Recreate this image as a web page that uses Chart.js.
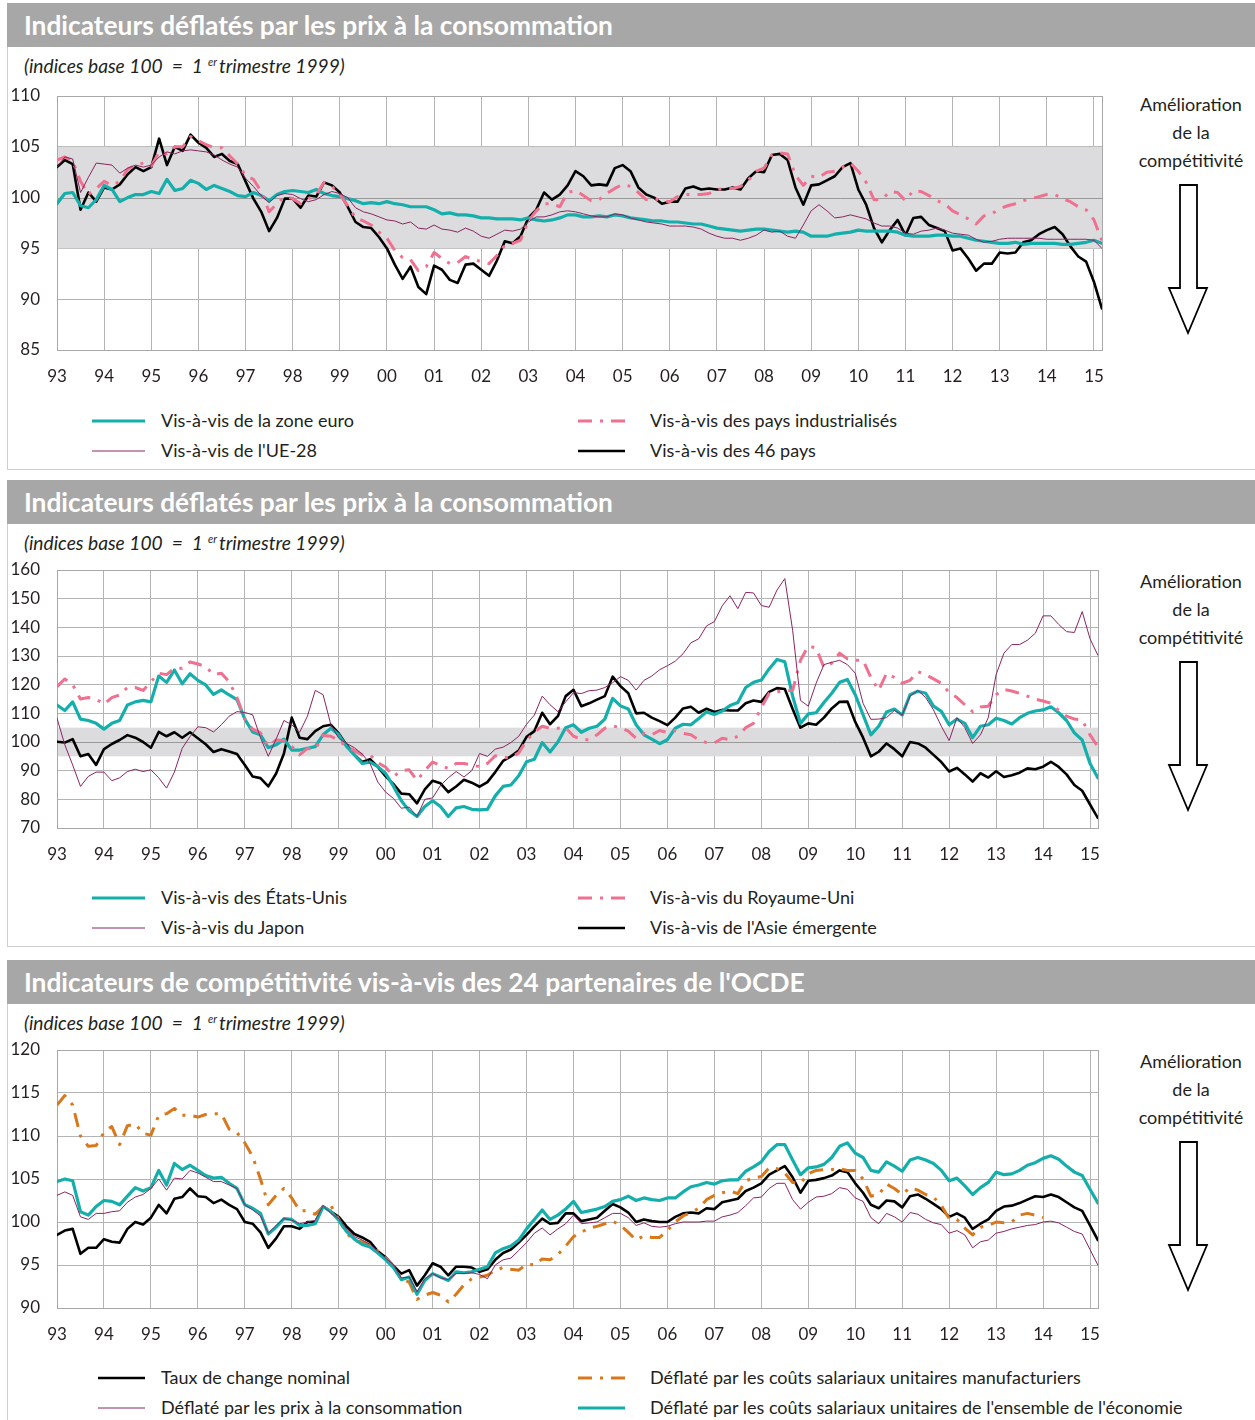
<!DOCTYPE html>
<html><head><meta charset="utf-8">
<script src="https://cdn.jsdelivr.net/npm/chart.js@4.4.1/dist/chart.umd.min.js"></script>
<style>
html,body{margin:0;padding:0;background:#fff;}
body{width:1255px;height:1420px;position:relative;overflow:hidden;font-family:Lato,'Open Sans',sans-serif;color:#231f20;}
.box{position:absolute;left:7px;width:1260px;border:1px solid #cfcfcf;box-sizing:border-box;}
.hdr{position:absolute;left:7px;width:1248px;height:44px;background:#a7a7a7;color:#fff;font-weight:700;font-size:26.3px;line-height:44px;padding-left:17px;box-sizing:border-box;white-space:nowrap;}
.sub{position:absolute;left:24px;font-style:italic;font-size:19.2px;line-height:22px;white-space:nowrap;}
.sub sup{font-size:11px;vertical-align:top;position:relative;top:-4px;margin-left:5px;margin-right:2px;}
.amel{position:absolute;left:1131px;width:120px;text-align:center;font-size:18px;line-height:28px;}
.leg{position:absolute;font-size:18px;line-height:22px;white-space:nowrap;}
canvas{position:absolute;left:0;}
svg{position:absolute;overflow:visible;}
</style></head>
<body>
<div id="root"></div>
<script>
// ---------- DATA (bimonthly observations, Jan 1993 .. Mar 2015) ----------
const yearLabels = ['93','94','95','96','97','98','99','00','01','02','03','04','05','06','07','08','09','10','11','12','13','14','15'];
const START_YEAR = 1993;
const STEP = 1/6;

// Panel 1
const p1Zone = [99.4,100.4,100.5,99.2,99.0,99.8,101.2,100.8,99.6,100.0,
100.3,100.3,100.6,100.4,101.8,100.7,100.9,101.7,101.4,100.8,
101.2,100.9,100.6,100.2,100.1,100.5,100.2,99.7,100.3,100.6,
100.7,100.6,100.5,100.8,100.4,100.2,100.1,99.9,99.7,99.4,
99.5,99.4,99.6,99.4,99.3,99.1,99.1,99.1,98.8,98.4,
98.5,98.3,98.3,98.2,98.0,98.0,97.9,97.9,97.9,97.8,
98.0,97.8,97.7,97.8,98.0,98.3,98.3,98.1,98.1,98.2,
98.1,98.3,98.2,98.0,97.9,97.8,97.7,97.7,97.6,97.6,
97.5,97.4,97.4,97.2,97.0,96.9,96.8,96.7,96.8,96.9,
96.9,96.8,96.7,96.6,96.7,96.6,96.2,96.2,96.2,96.4,
96.5,96.6,96.8,96.7,96.7,96.7,96.7,96.6,96.3,96.2,
96.2,96.2,96.3,96.3,96.2,96.2,96.0,95.8,95.7,95.6,
95.5,95.5,95.6,95.4,95.5,95.5,95.5,95.5,95.4,95.4,
95.5,95.6,95.8,95.5];
const p1UE = [103.0,104.0,103.8,100.5,102.0,103.4,103.3,103.2,102.4,102.9,
103.2,103.0,103.2,104.0,104.5,104.3,104.6,104.7,104.6,104.5,
104.2,103.7,103.3,103.0,101.9,101.1,100.2,99.5,100.2,100.4,
100.3,99.9,99.6,99.8,100.3,100.6,100.4,100.0,99.0,98.6,
98.4,98.1,97.8,97.7,97.4,97.6,97.0,96.9,97.3,96.9,
96.8,96.6,97.0,96.7,96.2,96.0,96.4,96.8,96.7,96.9,
97.6,98.1,98.1,98.3,98.6,98.7,98.6,98.4,98.2,98.1,
98.1,98.4,98.3,98.0,97.8,97.6,97.5,97.4,97.2,97.2,
97.2,97.1,96.9,96.5,96.2,96.0,96.0,95.8,96.0,96.3,
96.8,96.6,96.7,96.2,96.0,97.3,98.7,99.3,98.7,98.0,
98.1,98.3,98.1,97.9,97.5,97.2,97.2,97.0,96.5,96.4,
96.7,96.8,97.0,96.8,96.5,96.4,96.3,95.9,95.6,95.7,
95.9,96.0,96.0,96.0,96.0,96.0,95.9,95.9,95.9,95.9,
95.9,95.9,95.8,95.0];
const p1Indus = [103.7,104.0,103.6,101.6,100.3,100.9,101.6,101.2,101.6,102.8,
103.2,103.4,103.1,104.5,104.3,105.0,105.0,106.0,105.6,105.2,
104.9,104.9,104.1,103.3,102.2,101.8,100.6,98.6,99.4,100.1,
99.9,99.4,99.9,100.3,101.5,101.1,100.3,99.2,98.0,97.7,
97.3,96.6,96.0,94.8,94.1,93.9,92.8,93.2,94.6,94.0,
93.5,93.6,94.2,93.9,93.7,93.5,94.3,95.3,95.5,95.8,
97.7,98.7,99.4,99.4,99.1,100.5,100.7,100.2,99.7,99.8,
100.4,100.9,101.3,101.1,100.5,99.8,99.9,99.7,99.6,100.1,
100.3,100.3,100.3,100.4,100.8,100.9,100.9,101.1,101.7,102.6,
102.9,104.2,104.4,104.3,102.2,101.2,102.1,102.0,102.5,102.6,
103.0,103.4,102.6,101.5,99.8,99.8,100.6,100.5,99.7,100.7,
100.6,100.2,99.7,99.4,98.7,98.3,97.9,97.4,98.2,98.4,
98.9,99.2,99.4,99.7,99.9,100.1,100.3,100.3,99.9,99.6,
99.1,98.8,97.8,95.8];
const p1Pays46 = [103.0,103.7,103.3,98.8,100.5,99.6,101.0,100.8,101.3,102.3,
103.0,102.6,103.0,105.8,103.2,105.0,104.6,106.2,105.4,104.9,
104.0,104.3,103.6,103.3,101.6,99.9,98.6,96.7,98.0,99.9,
99.9,99.0,100.2,100.1,101.5,101.2,100.5,99.1,97.6,97.1,
97.0,96.1,95.0,93.4,92.0,93.2,91.2,90.5,93.3,92.9,
91.9,91.6,93.4,93.5,92.9,92.3,93.8,95.7,95.5,96.2,
98.0,98.8,100.5,99.8,100.3,101.2,102.6,102.1,101.2,101.3,
101.2,102.9,103.2,102.6,101.0,100.3,100.0,99.4,99.6,99.6,
100.9,101.1,100.8,100.9,100.8,100.8,101.0,100.8,101.9,102.6,
102.5,104.2,104.3,103.7,101.0,99.3,101.2,101.3,101.7,102.1,
103.0,103.4,100.8,99.3,97.0,95.6,96.8,97.8,96.3,98.0,
98.1,97.3,97.0,96.7,94.8,95.0,94.0,92.8,93.5,93.5,
94.6,94.5,94.6,95.6,95.8,96.4,96.8,97.1,96.4,95.2,
94.2,93.7,91.7,89.1];

// Panel 2
const p2US = [112.9,111.0,114.0,108.0,107.5,106.5,104.5,106.5,107.5,112.9,
114.0,114.5,114.0,123.0,120.8,125.1,120.3,123.8,121.5,119.9,
116.6,118.2,116.4,114.8,108.0,103.5,102.5,98.0,99.0,101.0,
97.2,97.2,97.8,98.4,102.5,104.8,102.5,98.5,95.5,92.5,
93.0,91.4,89.0,84.5,79.5,76.0,74.0,77.5,79.5,77.5,
74.0,77.0,77.5,76.5,76.3,76.5,81.2,84.5,85.0,88.2,
93.1,94.0,99.8,96.5,100.0,105.0,106.0,103.4,104.8,105.5,
108.0,115.2,112.6,111.5,106.0,102.5,101.0,99.4,100.8,104.8,
106.2,106.0,108.2,110.5,109.6,110.8,112.7,113.8,119.0,120.8,
121.6,125.5,128.8,128.0,116.0,106.5,109.8,110.2,113.8,117.0,
120.8,121.8,116.5,109.5,102.5,105.5,110.5,111.5,109.4,116.5,
117.7,117.0,112.5,110.7,106.0,108.0,106.5,101.5,105.5,106.0,
108.3,107.5,106.3,108.5,110.0,110.8,111.2,112.3,110.2,107.5,
103.2,100.7,92.5,87.5];
const p2JP = [108.3,99.0,92.0,84.5,88.0,89.5,89.5,86.5,87.5,89.7,
90.5,89.7,90.3,87.5,83.9,89.5,97.8,101.9,105.3,105.0,
103.5,106.0,109.0,110.6,110.3,109.5,101.5,95.0,101.0,107.5,
106.0,103.4,109.0,118.0,116.5,106.0,101.3,99.5,98.0,95.8,
92.5,86.0,82.5,80.3,76.9,77.3,74.0,80.0,80.5,84.8,
87.5,89.7,87.8,90.0,96.0,95.0,97.5,98.2,99.8,102.0,
106.2,109.4,116.0,113.0,110.6,114.0,117.2,116.9,117.9,118.1,
119.0,120.7,122.8,121.5,118.1,121.5,123.0,125.2,126.6,128.2,
130.8,134.6,136.0,140.5,142.0,147.5,151.0,146.5,152.2,152.0,
147.6,147.0,153.0,157.0,139.0,114.5,112.5,120.5,127.0,127.8,
128.5,127.0,124.0,113.5,107.9,108.0,108.5,111.0,109.4,116.0,
118.0,115.5,111.2,105.5,100.5,108.5,105.0,99.5,102.5,108.5,
123.5,131.0,134.0,134.0,135.5,137.9,144.0,144.0,141.0,138.5,
138.2,145.5,136.0,130.3];
const p2UK = [119.3,122.0,120.0,115.0,115.5,115.0,113.2,115.5,116.4,119.0,
119.0,118.0,121.0,124.0,123.5,125.7,125.7,127.9,127.2,126.3,
123.5,124.0,121.0,115.5,108.0,104.5,103.2,98.5,100.7,100.5,
98.5,95.5,97.8,97.5,102.3,102.0,100.5,98.5,97.0,95.5,
95.5,92.8,91.2,88.0,90.0,90.3,86.6,90.0,93.0,91.8,
90.8,92.5,92.5,92.0,91.4,92.5,95.2,94.6,94.5,96.2,
100.5,103.5,105.5,104.8,104.8,105.0,102.0,101.0,100.7,102.5,
104.8,105.6,105.0,103.8,101.3,103.0,102.5,104.0,103.3,104.0,
103.0,102.5,100.8,99.8,99.7,101.3,100.8,102.0,105.0,106.5,
112.0,117.0,117.5,118.0,118.0,128.5,133.5,132.8,126.0,127.5,
131.0,129.0,128.5,128.5,122.5,118.0,124.0,122.5,120.5,121.5,
124.5,123.5,122.0,120.5,117.2,115.5,113.0,110.6,112.2,112.5,
116.5,118.3,117.8,117.0,116.0,115.0,114.3,113.5,111.0,109.0,
108.0,107.7,102.5,98.3];
const p2Asia = [100.1,99.8,101.0,95.0,95.8,92.0,97.5,99.3,100.7,102.4,
101.5,100.0,98.0,103.5,102.0,103.4,101.5,103.4,101.3,99.2,
96.5,97.5,96.7,95.8,92.0,88.0,87.4,84.5,89.0,96.0,
108.5,101.5,101.0,103.8,105.5,106.0,103.0,99.0,95.5,93.0,
94.0,91.3,88.0,85.3,82.0,81.8,78.6,83.5,86.5,85.6,
82.5,84.5,86.8,85.8,84.4,86.0,89.5,93.4,95.0,97.0,
101.8,103.8,110.2,106.2,109.0,116.0,118.2,112.5,113.5,114.8,
116.0,122.8,119.5,117.0,110.0,110.2,108.5,107.3,105.9,108.5,
111.7,112.3,110.2,111.6,110.5,111.2,111.0,111.0,113.5,114.5,
114.0,117.5,118.8,118.5,111.5,105.0,106.5,106.0,108.5,111.7,
114.0,114.1,107.0,101.5,95.0,96.6,99.5,97.5,95.0,100.0,
99.5,98.0,95.5,93.0,89.7,91.0,88.7,86.2,89.1,87.6,
89.8,87.8,88.4,89.3,90.8,90.5,91.4,93.1,91.3,88.7,
85.0,83.0,78.2,73.5];

// Panel 3
const p3Nominal = [98.5,99.0,99.2,96.3,97.0,97.0,98.0,97.7,97.6,99.2,
100.0,99.7,100.5,102.0,101.0,102.7,102.9,103.9,103.0,102.9,
102.2,102.6,102.0,101.5,100.0,99.8,98.8,97.0,98.1,99.5,
99.5,99.2,100.0,100.0,101.8,101.2,100.6,99.5,98.6,98.2,
97.7,96.6,95.9,94.9,94.0,94.4,92.6,93.8,95.2,94.8,
93.8,94.8,94.8,94.7,94.2,94.5,95.6,96.4,96.8,97.6,
98.5,99.5,100.4,99.8,99.9,101.0,101.0,100.1,100.3,100.5,
101.3,102.1,101.7,101.1,100.0,100.3,100.1,100.0,100.0,100.6,
101.0,101.1,101.0,101.6,101.5,102.3,102.5,102.7,103.6,104.0,
104.5,105.5,106.0,106.5,105.2,103.4,104.8,104.9,105.1,105.4,
106.0,105.8,104.5,103.4,102.0,101.6,102.5,102.4,101.7,103.0,
103.2,102.7,102.1,101.5,100.6,101.0,100.5,99.2,99.8,100.3,
101.3,101.8,101.9,102.2,102.6,103.0,102.9,103.2,102.9,102.3,
101.7,101.3,99.6,97.9];
const p3CPI = [103.1,103.5,103.1,100.6,100.3,101.0,101.0,101.2,101.3,102.3,
102.9,103.2,103.9,105.0,103.7,105.1,105.0,106.0,105.7,105.2,
104.7,104.7,104.3,103.9,102.0,101.4,100.7,98.7,99.6,100.4,
100.2,99.8,100.0,100.2,101.9,101.0,100.4,99.2,98.3,97.9,
97.4,96.6,95.8,95.0,93.5,93.6,91.9,93.4,94.0,93.5,
93.3,94.0,94.0,94.1,93.9,93.4,95.0,95.6,95.8,96.7,
97.6,98.7,99.3,98.5,99.2,99.8,100.8,99.8,99.9,100.0,
100.5,101.0,101.0,100.5,99.6,99.9,99.5,99.4,99.5,99.8,
100.0,100.0,100.0,100.1,100.1,100.6,100.8,101.1,101.9,102.8,
102.9,103.9,104.5,104.5,102.6,101.5,102.3,102.9,103.0,103.3,
104.0,103.8,102.8,102.4,100.5,99.8,101.0,100.6,100.0,101.1,
100.9,100.3,99.9,99.7,98.7,99.0,98.5,97.0,97.7,97.9,
98.7,98.9,99.2,99.4,99.6,99.7,100.0,100.1,99.9,99.4,
98.9,98.6,96.8,95.0];
const p3ULCManuf = [113.6,114.7,113.6,110.0,108.8,108.9,110.4,111.1,109.0,111.2,
111.4,110.3,110.1,112.4,112.6,113.2,112.4,112.4,112.2,112.5,
112.6,112.6,110.8,110.4,109.2,107.6,105.0,102.0,103.1,103.9,
102.8,101.3,101.3,100.9,101.8,101.9,100.3,98.7,97.8,97.7,
97.3,96.6,95.8,94.8,93.4,93.0,91.0,91.5,91.8,91.5,
90.7,91.6,92.7,93.4,93.6,93.8,94.4,94.7,94.5,94.4,
95.1,95.0,95.7,95.6,96.2,97.2,98.3,98.8,99.3,99.5,
99.8,100.1,99.6,98.8,97.9,98.4,98.2,98.2,99.0,100.0,
100.7,101.1,101.6,102.6,103.1,103.4,103.6,103.3,104.8,105.1,
105.3,106.3,106.2,105.7,104.6,104.5,105.6,106.0,106.1,106.1,
106.2,106.0,106.0,105.0,103.0,103.2,104.4,103.9,103.2,104.0,
103.7,103.2,102.9,101.9,100.4,100.3,99.3,98.5,99.4,99.6,
100.0,99.9,100.0,100.8,101.0,100.8,100.5,null,null,null,
null,null,null,null];
const p3ULCEcon = [104.7,105.0,104.8,101.2,100.8,101.8,102.5,102.4,102.0,103.0,
104.0,103.6,104.0,106.0,104.3,106.8,106.1,106.6,106.0,105.4,
105.1,105.2,104.5,103.9,102.0,101.6,101.0,98.6,99.4,100.4,
100.3,99.6,99.6,99.8,101.8,101.2,100.2,98.9,98.0,97.4,
97.1,96.4,95.6,94.7,93.3,93.6,91.6,93.2,94.0,93.6,
93.2,94.2,94.1,94.2,94.5,94.8,96.4,96.9,97.2,97.9,
99.2,100.3,101.4,100.3,100.8,101.5,102.4,101.1,101.3,101.5,
101.8,102.4,102.6,103.0,102.5,102.8,102.6,102.5,102.8,102.8,
103.5,104.1,104.3,104.6,104.4,104.8,104.9,104.9,105.9,106.4,
107.0,108.2,109.0,109.0,107.2,105.5,106.3,106.4,106.7,107.5,
108.8,109.2,108.0,107.5,106.0,105.8,107.0,106.5,105.9,107.2,
107.5,107.2,106.8,106.0,104.8,105.1,104.2,103.2,104.0,104.6,
105.8,105.5,105.6,106.0,106.6,106.9,107.4,107.7,107.3,106.5,
105.8,105.4,103.8,102.2];

const p1YTicks = [85,90,95,100,105,110];
const p2YTicks = [70,80,90,100,110,120,130,140,150,160];
const p3YTicks = [90,95,100,105,110,115,120];
const neutralBand = [95,105];
const baseLevel = 100;

const titles = ['Indicateurs déflatés par les prix à la consommation',
                'Indicateurs déflatés par les prix à la consommation',
                "Indicateurs de compétitivité vis-à-vis des 24 partenaires de l'OCDE"];
const p1Legend = ['Vis-à-vis de la zone euro',"Vis-à-vis de l'UE-28",'Vis-à-vis des pays industrialisés','Vis-à-vis des 46 pays'];
const p2Legend = ['Vis-à-vis des États-Unis','Vis-à-vis du Japon','Vis-à-vis du Royaume-Uni',"Vis-à-vis de l'Asie émergente"];
const p3Legend = ['Taux de change nominal','Déflaté par les prix à la consommation','Déflaté par les coûts salariaux unitaires manufacturiers',"Déflaté par les coûts salariaux unitaires de l'ensemble de l'économie"];

// ---------- STYLES ----------
const C = {black:'#000000', teal:'#14aeab', purple:'#8a2461', pink:'#f0708f', orange:'#d8781a'};
const DASHDOT = [14,8,3,8];
const S = {
  black:{color:C.black,width:2.6},
  teal:{color:C.teal,width:3.2},
  purple:{color:C.purple,width:1},
  pink:{color:C.pink,width:3,dash:DASHDOT},
  orange:{color:C.orange,width:3,dash:DASHDOT}
};

const panels = [
  {top:3, plotTop:96, plotBottom:350, right:1102, yMin:85, yMax:110, yTicks:p1YTicks, band:true,
   series:[{d:p1UE,s:S.purple},{d:p1Indus,s:S.pink},{d:p1Zone,s:S.teal},{d:p1Pays46,s:S.black}],
   legend:[{label:p1Legend[0],s:S.teal,col:0,row:0},{label:p1Legend[1],s:S.purple,col:0,row:1},
           {label:p1Legend[2],s:S.pink,col:1,row:0},{label:p1Legend[3],s:S.black,col:1,row:1}], legX0:92},
  {top:480, plotTop:570, plotBottom:828, right:1098, yMin:70, yMax:160, yTicks:p2YTicks, band:true,
   series:[{d:p2JP,s:S.purple},{d:p2UK,s:S.pink},{d:p2US,s:S.teal},{d:p2Asia,s:S.black}],
   legend:[{label:p2Legend[0],s:S.teal,col:0,row:0},{label:p2Legend[1],s:S.purple,col:0,row:1},
           {label:p2Legend[2],s:S.pink,col:1,row:0},{label:p2Legend[3],s:S.black,col:1,row:1}], legX0:92},
  {top:960, plotTop:1050, plotBottom:1308, right:1098, yMin:90, yMax:120, yTicks:p3YTicks, band:false,
   series:[{d:p3CPI,s:S.purple},{d:p3ULCEcon,s:S.teal},{d:p3ULCManuf,s:S.orange},{d:p3Nominal,s:S.black}],
   legend:[{label:p3Legend[0],s:S.black,col:0,row:0},{label:p3Legend[1],s:S.purple,col:0,row:1},
           {label:p3Legend[2],s:S.orange,col:1,row:0},{label:p3Legend[3],s:S.teal,col:1,row:1}], legX0:98}
];

Chart.defaults.font.family = 'Lato';

const bandPlugin = {
  id:'band',
  beforeDatasetsDraw(chart, args, opts){
    const {ctx, chartArea:a, scales:{y}} = chart;
    ctx.save();
    if (opts.show){
      const yHi = y.getPixelForValue(neutralBand[1]), yLo = y.getPixelForValue(neutralBand[0]);
      ctx.fillStyle = '#dcdcde';
      ctx.fillRect(a.left, yHi, a.right - a.left, yLo - yHi);
      const ym = Math.round(y.getPixelForValue(baseLevel)) + 0.5;
      ctx.strokeStyle = '#999999'; ctx.lineWidth = 1;
      ctx.beginPath(); ctx.moveTo(a.left, ym); ctx.lineTo(a.right, ym); ctx.stroke();
    }
    ctx.strokeStyle = '#a8a8a8'; ctx.lineWidth = 1;
    ctx.strokeRect(Math.round(a.left)+0.5, Math.round(a.top)+0.5, Math.round(a.right-a.left), Math.round(a.bottom-a.top));
    ctx.restore();
  }
};

const root = document.getElementById('root');
function el(tag, cls, style, html){ const e=document.createElement(tag); if(cls) e.className=cls; if(style) e.setAttribute('style',style); if(html!=null) e.innerHTML=html; root.appendChild(e); return e; }

function sampleSVG(x0, x1, yc, s){
  const dash = s.dash ? ` stroke-dasharray="${s.dash.join(' ')}"` : '';
  return `<svg style="left:${x0}px;top:${yc-5}px" width="${x1-x0}" height="10"><line x1="0" y1="5" x2="${x1-x0}" y2="5" stroke="${s.color}" stroke-width="${s.width}"${dash}/></svg>`;
}

panels.forEach((p, pi) => {
  const T = p.top;
  const boxH = pi < 2 ? 467 : 470;
  el('div','box',`top:${T}px;height:${boxH}px;`);
  el('div','hdr',`top:${T}px;`, titles[pi]);
  el('div','sub',`top:${T+52}px;`, '(indices base 100&nbsp;&nbsp;=&nbsp;&nbsp;1<sup>er</sup>trimestre 1999)');
  el('div','amel',`top:${T+87}px;`, 'Amélioration<br>de la<br>compétitivité');
  const ay = T + 177;
  root.insertAdjacentHTML('beforeend', `<svg style="left:1160px;top:${ay}px" width="60" height="160"><polygon points="20,5 37,5 37,108 47,108 28,153 9,108 20,108" fill="#fff" stroke="#000" stroke-width="1.8" stroke-linejoin="miter"/></svg>`);
  // legend
  p.legend.forEach(it => {
    const yc = T + 418 + it.row*30;
    const x0 = it.col === 0 ? p.legX0 : 578, x1 = it.col === 0 ? 145 : 625;
    const tx = it.col === 0 ? 161 : 650;
    root.insertAdjacentHTML('beforeend', sampleSVG(x0, x1, yc, it.s));
    el('div','leg',`left:${tx}px;top:${yc-12}px;`, it.label);
  });
  // chart
  const cv = document.createElement('canvas');
  const W = p.right + 8, H = (p.plotBottom - p.plotTop) + 10 + 45;
  cv.width = W; cv.height = H;
  cv.style.top = (p.plotTop - 10) + 'px';
  cv.style.width = W + 'px'; cv.style.height = H + 'px';
  root.appendChild(cv);
  new Chart(cv.getContext('2d'), {
    type:'line',
    data:{datasets: p.series.map(sr => ({
      data: sr.d.map((v,i) => ({x: START_YEAR + i*STEP, y: v})),
      borderColor: sr.s.color, borderWidth: sr.s.width, borderDash: sr.s.dash || [],
      pointRadius:0, tension:0, fill:false, spanGaps:false,
      borderJoinStyle:'round', borderCapStyle: sr.s.dash ? 'butt' : 'round'
    }))},
    options:{
      responsive:false, animation:false, devicePixelRatio:1, events:[],
      layout:{padding:{top:10,right:8,left:0,bottom:0}},
      plugins:{legend:{display:false}, tooltip:{enabled:false}, band:{show:p.band}},
      scales:{
        x:{type:'linear', min:1993, max:2015.17,
           afterBuildTicks: s => { s.ticks = yearLabels.map((_,i) => ({value: START_YEAR + i})); },
           afterFit: s => { s.height = 45; s.paddingLeft = 0; s.paddingRight = 0; },
           grid:{color:'#b4b4b4', lineWidth:1, drawTicks:false},
           border:{color:'#a8a8a8'},
           ticks:{padding:16, maxRotation:0, minRotation:0, autoSkip:false, color:'#231f20', font:{size:17},
                  callback: v => yearLabels[Math.round(v - START_YEAR)]}},
        y:{min:p.yMin, max:p.yMax,
           afterBuildTicks: s => { s.ticks = p.yTicks.map(v => ({value:v})); },
           afterFit: s => { s.width = 57; s.paddingTop = 0; s.paddingBottom = 0; },
           grid:{color:'#b4b4b4', lineWidth:1, drawTicks:false},
           border:{color:'#a8a8a8'},
           ticks:{padding:17, color:'#231f20', font:{size:17}, callback: v => String(v)}}
      }
    },
    plugins:[bandPlugin]
  });
});
</script>
</body></html>
